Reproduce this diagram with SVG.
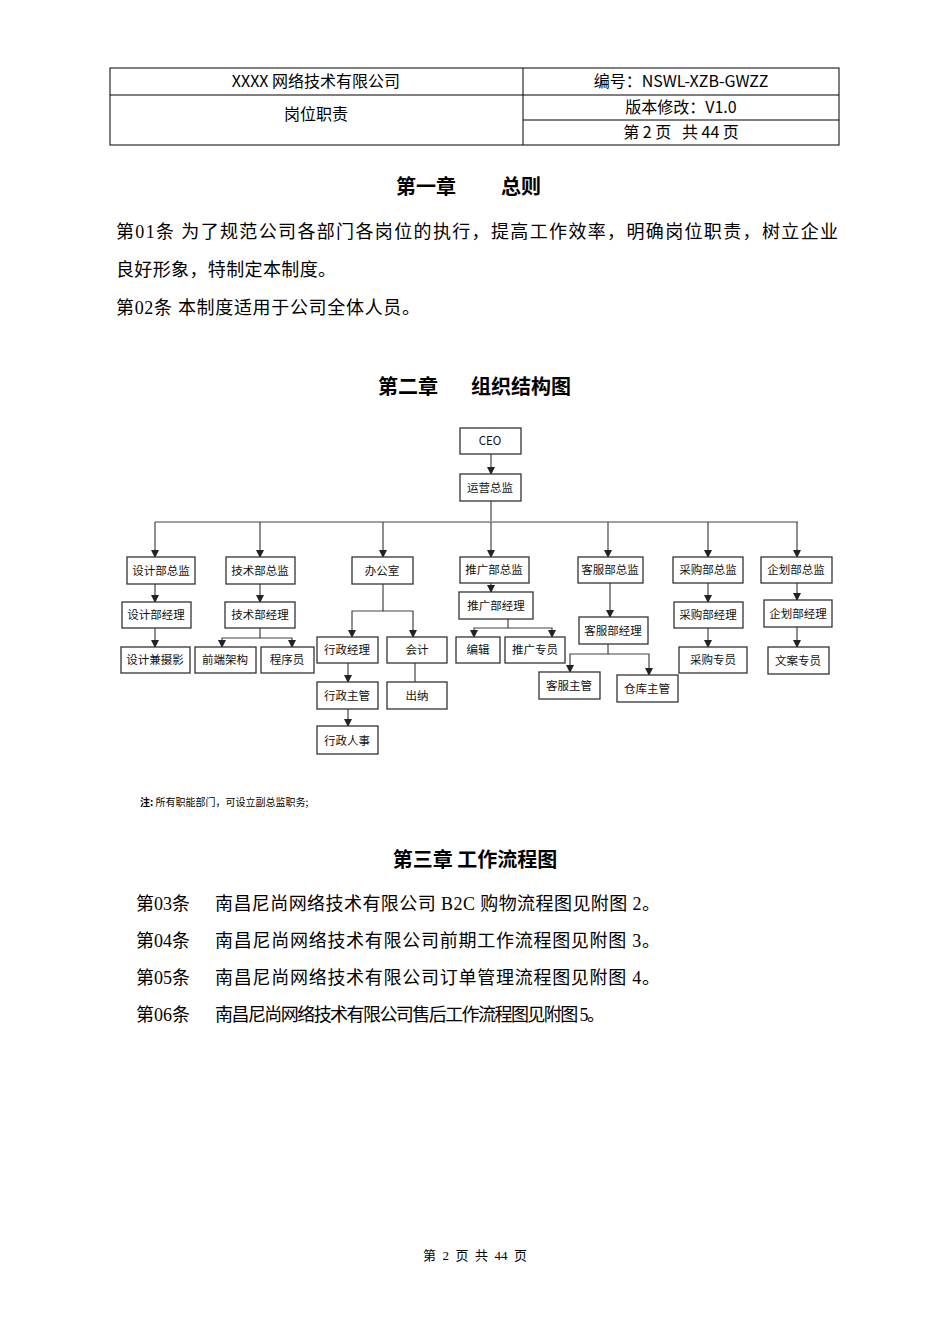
<svg xmlns="http://www.w3.org/2000/svg" width="950" height="1344" viewBox="0 0 950 1344">
<style>
.h{font-family:"Noto Sans CJK SC","Liberation Sans",sans-serif;font-size:16px;fill:#000;text-anchor:middle}
.t{font-family:"Noto Sans CJK SC",sans-serif;font-size:20px;font-weight:bold;text-anchor:middle}
.b{font-family:"Liberation Serif","Noto Sans CJK SC",serif;font-size:18px}
.n rect{fill:#fff;stroke:#333;stroke-width:1.3}
.n text{font-family:"Noto Sans CJK SC",sans-serif;font-size:11.5px;text-anchor:middle;fill:#111}
#c path{fill:none;stroke:#444;stroke-width:1.2}
#c .ar{marker-end:url(#a)}
</style>
<defs><marker id="a" markerWidth="8" markerHeight="8" refX="7" refY="4" orient="auto" markerUnits="userSpaceOnUse"><path d="M0,0L8,4L0,8z" fill="#222"/></marker></defs>
<rect width="950" height="1344" fill="#fff"/>
<g id="header" fill="none" stroke="#000">
<rect x="110" y="68" width="729" height="77"/>
<path d="M523 68V145M110 95H839M523 120H839"/>
</g>
<text class="h" x="316" y="87" xml:space="preserve">XXXX 网络技术有限公司</text>
<text class="h" x="316" y="120">岗位职责</text>
<text class="h" x="681" y="87">编号：NSWL-XZB-GWZZ</text>
<text class="h" x="681" y="113">版本修改：V1.0</text>
<text class="h" x="681" y="138" xml:space="preserve">第 2 页   共 44 页</text>
<text class="t" x="426" y="194">第一章</text><text class="t" x="521" y="194">总则</text>
<text class="b" x="116" y="238" textLength="722">第01条 为了规范公司各部门各岗位的执行，提高工作效率，明确岗位职责，树立企业</text>
<text class="b" x="116" y="276" textLength="220">良好形象，特制定本制度。</text>
<text class="b" x="116" y="314" textLength="304">第02条 本制度适用于公司全体人员。</text>
<text class="t" x="408" y="394">第二章</text><text class="t" x="521" y="394">组织结构图</text>
<g id="c">
<path class="ar" d="M491 454V474"/>
<path d="M491 501V521"/>
<path d="M155 522H798"/>
<path class="ar" d="M155 522V557"/><path class="ar" d="M260 522V557"/><path class="ar" d="M383 522V557"/><path class="ar" d="M491 522V557"/><path class="ar" d="M608 522V557"/><path class="ar" d="M708 522V557"/><path class="ar" d="M797 522V557"/>
<path class="ar" d="M155 584V602"/><path class="ar" d="M155 628V647"/><path class="ar" d="M260 584V602"/>
<path class="ar" d="M260 628V638H222V647"/><path class="ar" d="M260 638H292V647"/>
<path class="ar" d="M383 584V611H352V637"/><path class="ar" d="M383 611H413V637"/>
<path class="ar" d="M348 663V682"/><path class="ar" d="M348 709V726"/>
<path d="M415 663V682"/>
<path class="ar" d="M491 583V592"/>
<path class="ar" d="M508 619V628H474V637"/><path class="ar" d="M508 628H552V637"/>
<path class="ar" d="M610 583V617"/>
<path class="ar" d="M608 644V654H570V672"/><path class="ar" d="M608 654H649V675"/>
<path class="ar" d="M708 583V602"/><path class="ar" d="M708 628V647"/><path class="ar" d="M797 583V600"/><path class="ar" d="M797 627V647"/>
</g>
<g id="ceo" class="n"><rect x="460" y="428" width="61" height="26"/><text x="490" y="445">CEO</text></g>
<g id="yy" class="n"><rect x="460" y="474" width="61" height="27"/><text x="490" y="492">运营总监</text></g>
<g id="sj1" class="n"><rect x="127" y="557" width="68" height="27"/><text x="161" y="575">设计部总监</text></g>
<g id="sj2" class="n"><rect x="122" y="602" width="69" height="26"/><text x="156" y="619">设计部经理</text></g>
<g id="sj3" class="n"><rect x="121" y="647" width="69" height="26"/><text x="155" y="664">设计兼摄影</text></g>
<g id="js1" class="n"><rect x="226" y="557" width="69" height="27"/><text x="260" y="575">技术部总监</text></g>
<g id="js2" class="n"><rect x="225" y="602" width="70" height="26"/><text x="260" y="619">技术部经理</text></g>
<g id="qd" class="n"><rect x="195" y="647" width="61" height="26"/><text x="225" y="664">前端架构</text></g>
<g id="cx" class="n"><rect x="261" y="647" width="53" height="26"/><text x="287" y="664">程序员</text></g>
<g id="bgs" class="n"><rect x="352" y="557" width="61" height="27"/><text x="382" y="575">办公室</text></g>
<g id="xz1" class="n"><rect x="317" y="637" width="61" height="26"/><text x="347" y="654">行政经理</text></g>
<g id="kj" class="n"><rect x="387" y="637" width="60" height="26"/><text x="417" y="654">会计</text></g>
<g id="xz2" class="n"><rect x="317" y="682" width="61" height="27"/><text x="347" y="700">行政主管</text></g>
<g id="cn" class="n"><rect x="387" y="682" width="60" height="27"/><text x="417" y="700">出纳</text></g>
<g id="xz3" class="n"><rect x="317" y="726" width="61" height="28"/><text x="347" y="745">行政人事</text></g>
<g id="tg1" class="n"><rect x="460" y="557" width="69" height="26"/><text x="494" y="574">推广部总监</text></g>
<g id="tg2" class="n"><rect x="459" y="592" width="74" height="27"/><text x="496" y="610">推广部经理</text></g>
<g id="bj" class="n"><rect x="456" y="637" width="44" height="26"/><text x="478" y="654">编辑</text></g>
<g id="tg3" class="n"><rect x="505" y="637" width="60" height="26"/><text x="535" y="654">推广专员</text></g>
<g id="kf1" class="n"><rect x="578" y="557" width="65" height="26"/><text x="610" y="574">客服部总监</text></g>
<g id="kf2" class="n"><rect x="579" y="617" width="69" height="27"/><text x="613" y="635">客服部经理</text></g>
<g id="kf3" class="n"><rect x="539" y="672" width="61" height="27"/><text x="569" y="690">客服主管</text></g>
<g id="ck" class="n"><rect x="617" y="675" width="61" height="27"/><text x="647" y="693">仓库主管</text></g>
<g id="cg1" class="n"><rect x="673" y="557" width="70" height="26"/><text x="708" y="574">采购部总监</text></g>
<g id="cg2" class="n"><rect x="674" y="602" width="69" height="26"/><text x="708" y="619">采购部经理</text></g>
<g id="cg3" class="n"><rect x="679" y="647" width="68" height="26"/><text x="713" y="664">采购专员</text></g>
<g id="qh1" class="n"><rect x="761" y="557" width="71" height="26"/><text x="796" y="574">企划部总监</text></g>
<g id="qh2" class="n"><rect x="764" y="600" width="68" height="27"/><text x="798" y="618">企划部经理</text></g>
<g id="wa" class="n"><rect x="768" y="647" width="61" height="27"/><text x="798" y="665">文案专员</text></g>
<text x="140" y="806" font-family="Noto Sans CJK SC,sans-serif" font-size="10"><tspan font-weight="bold">注:</tspan> 所有职能部门，可设立副总监职务;</text>
<text class="t" x="475" y="867">第三章 工作流程图</text>
<text class="b" x="136" y="910">第03条</text><text class="b" x="215" y="910" textLength="445">南昌尼尚网络技术有限公司 B2C 购物流程图见附图 2。</text>
<text class="b" x="136" y="947">第04条</text><text class="b" x="215" y="947" textLength="445">南昌尼尚网络技术有限公司前期工作流程图见附图 3。</text>
<text class="b" x="136" y="984">第05条</text><text class="b" x="215" y="984" textLength="445">南昌尼尚网络技术有限公司订单管理流程图见附图 4。</text>
<text class="b" x="136" y="1021">第06条</text><text class="b" x="215" y="1021" font-size="15" textLength="390">南昌尼尚网络技术有限公司售后工作流程图见附图 5。</text>
<text x="475" y="1260" text-anchor="middle" font-family="Liberation Serif,Noto Sans CJK SC,serif" font-size="13" xml:space="preserve">第  2  页  共  44  页</text>
</svg>
